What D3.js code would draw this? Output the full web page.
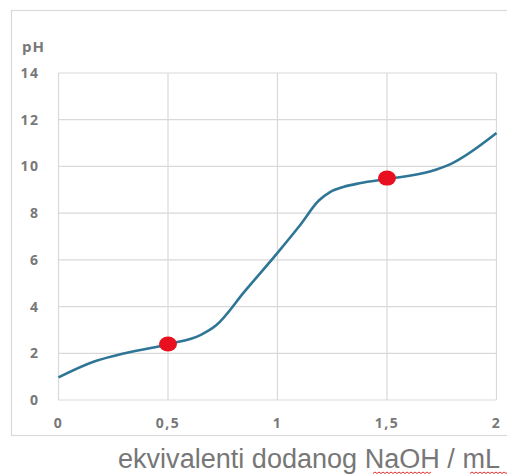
<!DOCTYPE html>
<html>
<head>
<meta charset="utf-8">
<script src="https://cdn.jsdelivr.net/npm/d3@7"></script>
<style>
  html, body { margin: 0; padding: 0; background: #fff; }
  svg { display: block; }
</style>
</head>
<body>
<div id="chart"></div>
<script>
// titration curve
const volume = [0, 0.16, 0.27, 0.5, 0.65, 0.72, 0.85, 1.0, 1.1, 1.19, 1.24, 1.3, 1.38, 1.5, 1.7, 1.79, 2];
const ph     = [0.97, 1.64, 1.93, 2.39, 2.79, 3.2, 4.65, 6.3, 7.45, 8.55, 8.9, 9.12, 9.29, 9.46, 9.79, 10.1, 11.43];

// half-equivalence points (red markers)
const markerX = [0.5, 1.5];
const markerY = [2.4, 9.5];

const xTicks = [0, 0.5, 1, 1.5, 2];
const xTickLabels = ["0", "0,5", "1", "1,5", "2"];
const yTicks = [0, 2, 4, 6, 8, 10, 12, 14];

const yLabel = "pH";
const xTitle = "ekvivalenti dodanog NaOH / mL";

const width = 507, height = 475;
const margin = { top: 73, right: 10, bottom: 75, left: 58.5 };
const innerW = 496.5 - margin.left;
const innerH = 400 - margin.top;

const svg = d3.select("#chart").append("svg")
  .attr("width", width)
  .attr("height", height);

// outer chart frame
svg.append("rect")
  .attr("x", 11.5).attr("y", 10.5)
  .attr("width", 520).attr("height", 425)
  .attr("fill", "#fff")
  .attr("stroke", "#d9d9d9")
  .attr("stroke-width", 1.2);

const g = svg.append("g")
  .attr("transform", `translate(${margin.left},${margin.top})`);

const x = d3.scaleLinear().domain([0, 2]).range([0, innerW]);
const y = d3.scaleLinear().domain([0, 14]).range([innerH, 0]);

// grid
g.selectAll(".hgrid")
  .data(yTicks)
  .enter().append("line")
  .attr("class", "hgrid")
  .attr("x1", 0).attr("x2", innerW)
  .attr("y1", d => y(d)).attr("y2", d => y(d))
  .attr("stroke", "#d9d9d9")
  .attr("stroke-width", 1.2);

g.selectAll(".vgrid")
  .data(xTicks)
  .enter().append("line")
  .attr("class", "vgrid")
  .attr("x1", d => x(d)).attr("x2", d => x(d))
  .attr("y1", 0).attr("y2", innerH)
  .attr("stroke", "#d9d9d9")
  .attr("stroke-width", 1.2);

// tick labels
const tickFont = "'Open Sans', 'DejaVu Sans', sans-serif";

g.selectAll(".ylab")
  .data(yTicks)
  .enter().append("text")
  .attr("class", "ylab")
  .attr("x", -19)
  .attr("y", d => y(d) + 5)
  .attr("text-anchor", "end")
  .style("font-family", tickFont)
  .style("font-size", "14px")
  .style("font-weight", "bold")
  .style("letter-spacing", "1.5px")
  .attr("fill", "#787878")
  .text(d => d);

g.selectAll(".xlab")
  .data(xTicks)
  .enter().append("text")
  .attr("class", "xlab")
  .attr("x", (d, i) => x(d))
  .attr("y", innerH + 28)
  .attr("text-anchor", "middle")
  .style("font-family", tickFont)
  .style("font-size", "14px")
  .style("font-weight", "bold")
  .style("letter-spacing", "1.5px")
  .attr("fill", "#787878")
  .text((d, i) => xTickLabels[i]);

svg.append("text")
  .attr("x", 22)
  .attr("y", 52)
  .style("font-family", tickFont)
  .style("font-size", "15px")
  .style("font-weight", "bold")
  .style("letter-spacing", "1px")
  .attr("fill", "#787878")
  .text(yLabel);

// curve
const pts = volume.map((v, i) => [v, ph[i]]);
const line = d3.line()
  .x(d => x(d[0]))
  .y(d => y(d[1]))
  .curve(d3.curveMonotoneX);

g.append("path")
  .datum(pts)
  .attr("fill", "none")
  .attr("stroke", "#2f7696")
  .attr("stroke-width", 2.6)
  .attr("d", line);

g.selectAll(".marker")
  .data(markerX.map((v, i) => [v, markerY[i]]))
  .enter().append("ellipse")
  .attr("class", "marker")
  .attr("cx", d => x(d[0]))
  .attr("cy", d => y(d[1]))
  .attr("rx", 9)
  .attr("ry", 7.5)
  .attr("fill", "#e8101f");

// x-axis title
svg.append("text")
  .attr("x", 118)
  .attr("y", 468)
  .attr("textLength", 382)
  .attr("lengthAdjust", "spacingAndGlyphs")
  .style("font-family", "'Liberation Sans', Arial, sans-serif")
  .style("font-size", "27px")
  .attr("fill", "#777")
  .text(xTitle);

// spell-check squiggles under NaOH and mL
const squiggle = (x0, x1) => {
  const p = d3.path();
  p.moveTo(x0, 473.5);
  for (let xx = x0, k = 0; xx < x1; xx += 2, k++) p.lineTo(xx + 2, k % 2 ? 473.5 : 472);
  return p.toString();
};
[[373, 430], [470, 507]].forEach(([a, b]) => {
  svg.append("path")
    .attr("d", squiggle(a, b))
    .attr("fill", "none")
    .attr("stroke", "#e03030")
    .attr("stroke-width", 1);
});
</script>
</body>
</html>
